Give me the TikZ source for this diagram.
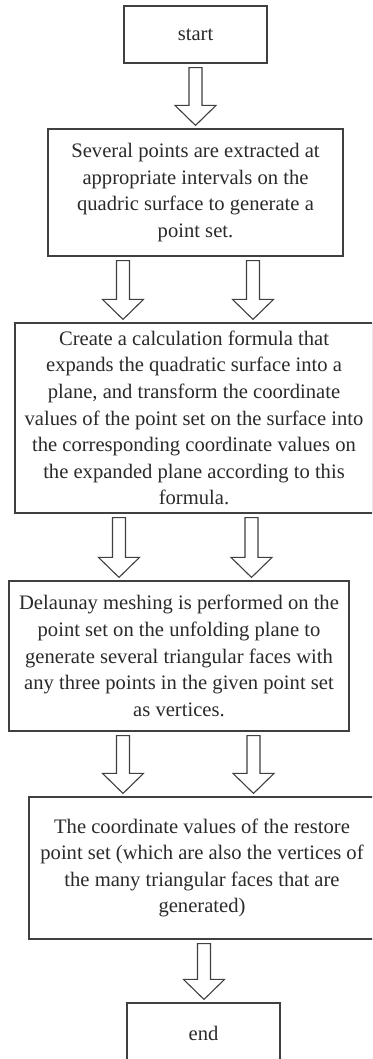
\documentclass[tikz,border=0pt]{standalone}
\usepackage{fontspec}
\setmainfont{Liberation Serif}
\usetikzlibrary{calc}
\definecolor{ln}{HTML}{404040}
\definecolor{tx}{HTML}{2A2A2A}
\tikzset{
  box/.style={draw=ln, line width=1.2pt, rectangle, inner sep=0pt, align=center,
    text=tx, font=\fontsize{20.6}{26.6}\selectfont},
  arr/.style={draw=ln, line width=1.1pt, fill=white, line join=miter},
}
\newcommand\harrow[2]{%
  \draw[arr] let \p1=#1, \p2=#2 in
    (\x1-6.5pt,\y1) -- (\x1+6.5pt,\y1) -- (\x1+6.5pt,\y2+20pt) -- (\x1+20.5pt,\y2+20pt)
    -- (\x1,\y2) -- (\x1-20.5pt,\y2+20pt) -- (\x1-6.5pt,\y2+20pt) -- cycle;}
\begin{document}
\begin{tikzpicture}[x=1pt,y=1pt]
\useasboundingbox (0,0) rectangle (372,-1059);
\clip (0,0) rectangle (372,-1059);
\fill[white] (0,0) rectangle (372,-1059);

\node[box, minimum width=143pt, minimum height=57pt] (s) at (195.5,-34.5) {start};
\node[box, minimum width=295pt, minimum height=127pt] (b2) at (195.5,-192.5)
  {Several points are extracted at\\appropriate intervals on the\\quadric surface to generate a\\point set.};
\node[box, minimum width=358pt, minimum height=190pt] (b3) at (194,-418)
  {Create a calculation formula that\\expands the quadratic surface into a\\plane, and transform the coordinate\\values of the point set on the surface into\\the corresponding coordinate values on\\the expanded plane according to this\\formula.};
\node[box, minimum width=340pt, minimum height=150pt] (b4) at (179,-656)
  {Delaunay meshing is performed on the\\point set on the unfolding plane to\\generate several triangular faces with\\any three points in the given point set\\as vertices.};
\node[box, minimum width=346pt, minimum height=142pt] (b5) at (202,-868)
  {The coordinate values of the restore\\point set (which are also the vertices of\\the many triangular faces that are\\generated)};
\node[box, minimum width=153pt, minimum height=60pt] (e) at (203.5,-1033) {end};

\coordinate (xa) at (195.5,0);
\coordinate (xl2) at (123,0);
\coordinate (xr2) at (253,0);
\coordinate (xl3) at (119,0);
\coordinate (xr3) at (251.5,0);
\coordinate (xl4) at (123,0);
\coordinate (xr4) at (253.5,0);
\coordinate (xe) at (204,0);

\harrow{($(s.south -| xa)+(0,-4)$)}{($(b2.north -| xa)+(0,3)$)}
\harrow{($(b2.south -| xl2)+(0,-4)$)}{($(b3.north -| xl2)+(0,3)$)}
\harrow{($(b2.south -| xr2)+(0,-4)$)}{($(b3.north -| xr2)+(0,3)$)}
\harrow{($(b3.south -| xl3)+(0,-4)$)}{($(b4.north -| xl3)+(0,3)$)}
\harrow{($(b3.south -| xr3)+(0,-4)$)}{($(b4.north -| xr3)+(0,3)$)}
\harrow{($(b4.south -| xl4)+(0,-4)$)}{($(b5.north -| xl4)+(0,3)$)}
\harrow{($(b4.south -| xr4)+(0,-4)$)}{($(b5.north -| xr4)+(0,3)$)}
\harrow{($(b5.south -| xe)+(0,-4)$)}{($(e.north -| xe)+(0,3)$)}
\end{tikzpicture}
\end{document}
